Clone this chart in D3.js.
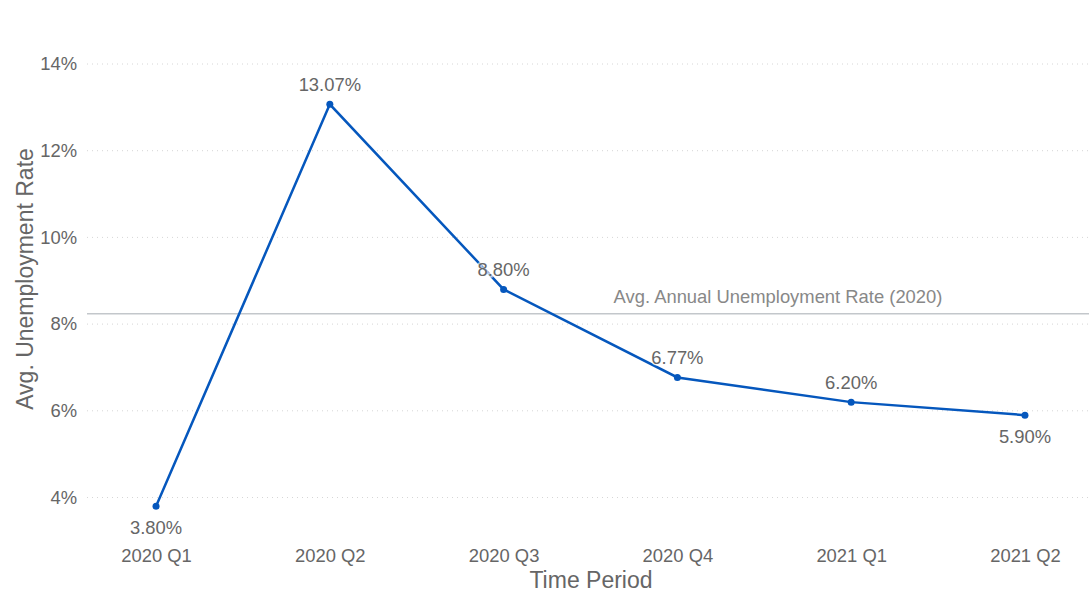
<!DOCTYPE html>
<html><head><meta charset="utf-8">
<script src="https://cdn.jsdelivr.net/npm/d3@7"></script>
<style>body{margin:0;background:#fff}svg{display:block;font-family:"Liberation Sans",Arial,sans-serif}</style>
</head><body><svg id="c" width="1091" height="595"></svg>
<script>
const categories = ["2020 Q1","2020 Q2","2020 Q3","2020 Q4","2021 Q1","2021 Q2"];
const values = [3.80, 13.07, 8.80, 6.77, 6.20, 5.90];
const labelPos = ["below","above","above","above","above","below"];
const yTicks = [4,6,8,10,12,14];
const refValue = 8.24;
const refLabel = "Avg. Annual Unemployment Rate (2020)";
const yTitle = "Avg. Unemployment Rate";
const xTitle = "Time Period";

const svg = d3.select("#c");
const x = d3.scalePoint().domain(categories).range([90,1091]).padding(0.38);
const y = d3.scaleLinear().domain([4,14]).range([497.5,64]);
const gx0 = 87, gx1 = 1089;
const txt = "#666666";
const fs = 18.4;

// gridlines
svg.append("g").selectAll("line").data(yTicks).join("line")
  .attr("x1",gx0).attr("x2",gx1).attr("y1",d=>y(d)).attr("y2",d=>y(d))
  .attr("stroke","#d6d6d6").attr("stroke-width",1).attr("stroke-dasharray","1,4");

// y axis labels
const yAxis = d3.axisLeft(y).tickValues(yTicks).tickFormat(d=>d+"%").tickSize(0).tickPadding(0);
const ga = svg.append("g").attr("transform","translate(77,0)").call(yAxis);
ga.select(".domain").remove();
ga.selectAll("text").attr("fill",txt).attr("font-size",fs).attr("font-family","Liberation Sans, Arial, sans-serif");

// x axis labels
const xAxis = d3.axisBottom(x).tickSize(0).tickPadding(0);
const gb = svg.append("g").attr("transform","translate(0,549)").call(xAxis);
gb.select(".domain").remove();
gb.selectAll("text").attr("fill",txt).attr("font-size",fs).attr("font-family","Liberation Sans, Arial, sans-serif");

// titles
svg.append("text").attr("transform","translate(33,279) rotate(-90)").attr("text-anchor","middle")
  .attr("fill",txt).attr("font-size",23).text(yTitle);
svg.append("text").attr("x",591).attr("y",588).attr("text-anchor","middle")
  .attr("fill",txt).attr("font-size",23).text(xTitle);

// reference line
svg.append("line").attr("x1",gx0).attr("x2",gx1).attr("y1",y(refValue)).attr("y2",y(refValue))
  .attr("stroke","#c3c7cb").attr("stroke-width",1.5);
svg.append("text").attr("x",778).attr("y",y(refValue)-11).attr("text-anchor","middle")
  .attr("fill","#888888").attr("font-size",fs).text(refLabel);

// line
const line = d3.line().x((d,i)=>x(categories[i])).y(d=>y(d));
svg.append("path").datum(values).attr("d",line).attr("fill","none")
  .attr("stroke","#0557bd").attr("stroke-width",2.5);
svg.append("g").selectAll("circle").data(values).join("circle")
  .attr("cx",(d,i)=>x(categories[i])).attr("cy",d=>y(d)).attr("r",3.5).attr("fill","#0557bd");

// data labels
svg.append("g").selectAll("text").data(values).join("text")
  .attr("x",(d,i)=>x(categories[i]))
  .attr("y",(d,i)=>labelPos[i]==="above"? y(d)-13 : y(d)+28)
  .attr("text-anchor","middle").attr("fill",txt).attr("font-size",fs)
  .attr("stroke","rgba(255,255,255,0.7)").attr("stroke-width",3).attr("paint-order","stroke")
  .text(d=>d.toFixed(2)+"%");
</script></body></html>
